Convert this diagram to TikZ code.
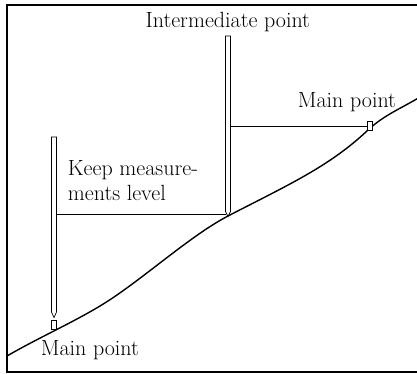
\documentclass[tikz,border=0pt]{standalone}
\begin{document}
\begin{tikzpicture}[x=1pt,y=-1pt,
  frame/.style={line width=1.3pt},
  ground/.style={line width=1.4pt,line cap=round},
  rod/.style={draw,line width=0.7pt,fill=white},
  sight/.style={line width=0.8pt},
  lbl/.style={inner sep=0pt,anchor=base west,font=\fontsize{22}{26}\selectfont}]
\useasboundingbox (0,0) rectangle (417,374);
% outer frame (right side runs past the page edge)
\draw[frame] (420,5) -- (7,5) -- (7,372) -- (420,372);
% sloping ground
\draw[ground] (7,356) .. controls (38,338) and (70,324) .. (100,306)
  .. controls (140,282) and (188,237) .. (228,216)
  .. controls (290,184) and (330,166) .. (368,130)
  .. controls (384,115) and (402,108) .. (420,97);
% lower main point: peg and levelling staff
\draw[rod] (51.7,320.5) rectangle (56.2,329.5);
\draw[rod] (51.5,137) -- (56.5,137) -- (56.5,312) -- (54,317.5) -- (51.5,312) -- cycle;
\coordinate (staffL) at (56.5,214);
% intermediate point staff
\draw[rod] (225.5,36) -- (230.5,36) -- (230.5,211.5) -- (228,216.5) -- (225.5,211.5) -- cycle;
\coordinate (staffMl) at (225.5,214);
\coordinate (staffMr) at (230.5,126.7);
% upper main point peg
\draw[rod] (367.5,121.7) rectangle (372.3,130);
\coordinate (pegR) at (367.5,126.7);
% level sight lines
\draw[sight] (staffL) -- (staffMl);
\draw[sight] (staffMr) -- (pegR);
% labels
\node[lbl,anchor=base] (inter) at (227.8,27.3) {Intermediate point};
\node[lbl] (mainR) at (297.7,107.3) {Main point};
\node[lbl] (keep1) at (67.7,175.7) {Keep measure-};
\node[lbl] (keep2) at (67.7,200.2) {ments level};
\node[lbl] (mainL) at (40.7,355) {Main point};
\end{tikzpicture}
\end{document}
